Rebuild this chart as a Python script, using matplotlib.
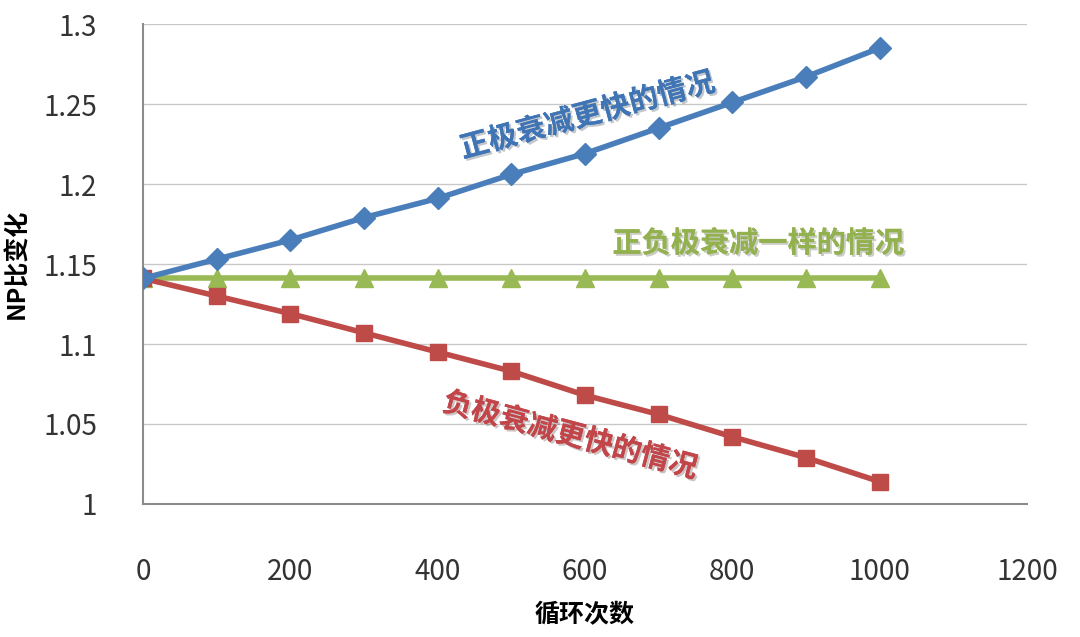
import matplotlib
matplotlib.use("Agg")
import matplotlib.pyplot as plt
import matplotlib.patheffects as pe

plt.rcParams['font.family'] = ['Noto Sans CJK SC', 'DejaVu Sans']

# 循环次数
cycles = [0, 100, 200, 300, 400, 500, 600, 700, 800, 900, 1000]
# NP比
np_pos_fast = [1.141, 1.153, 1.165, 1.179, 1.191, 1.206, 1.219, 1.235, 1.251, 1.267, 1.285]
np_same = [1.141] * 11
np_neg_fast = [1.141, 1.130, 1.119, 1.107, 1.095, 1.083, 1.068, 1.056, 1.042, 1.029, 1.014]

x_ticks = [0, 200, 400, 600, 800, 1000, 1200]
y_ticks = [1, 1.05, 1.1, 1.15, 1.2, 1.25, 1.3]
y_tick_labels = ['1', '1.05', '1.1', '1.15', '1.2', '1.25', '1.3']

blue = '#4a7ebb'
red = '#be4b48'
green = '#98b954'

fig = plt.figure(figsize=(10.8, 6.37), dpi=100)
ax = fig.add_axes([0.1324, 0.2088, 0.8185, 0.7535])

ax.plot(cycles, np_same, color=green, lw=4, marker='^', ms=13, zorder=3)
ax.plot(cycles, np_neg_fast, color=red, lw=4, marker='s', ms=11, zorder=4)
ax.plot(cycles, np_pos_fast, color=blue, lw=4, marker='D', ms=11, zorder=5)

ax.set_xlim(0, 1200)
ax.set_ylim(1, 1.3)
ax.set_xticks(x_ticks)
ax.set_yticks(y_ticks)
ax.set_yticklabels(y_tick_labels)
ax.tick_params(axis='both', length=0, labelsize=20, colors='#333333')
ax.tick_params(axis='x', pad=38)
ax.tick_params(axis='y', pad=33)
ax.grid(axis='y', color='#c8c8c8', lw=1)
ax.set_axisbelow(True)
for s in ['top', 'right']:
    ax.spines[s].set_visible(False)
for s in ['left', 'bottom']:
    ax.spines[s].set_color('#8c8c8c')
    ax.spines[s].set_linewidth(1.5)

ax.set_xlabel('循环次数', fontsize=18, fontweight='bold', labelpad=12)
ax.set_ylabel('NP比变化', fontsize=18, fontweight='bold', labelpad=10)

shadow = [pe.withSimplePatchShadow(offset=(1.5, -1.5), alpha=0.25), pe.Normal()]
ax.text(603, 1.243, '正极衰减更快的情况', color='#3f74b5', fontsize=21, fontweight='bold',
        rotation=15, ha='center', va='center', path_effects=shadow)
ax.text(835, 1.163, '正负极衰减一样的情况', color='#93b14f', fontsize=21, fontweight='bold',
        ha='center', va='center', path_effects=shadow)
ax.text(580, 1.043, '负极衰减更快的情况', color='#c2454a', fontsize=21, fontweight='bold',
        rotation=-15, ha='center', va='center', path_effects=shadow)

fig.savefig('out.png', dpi=100)
